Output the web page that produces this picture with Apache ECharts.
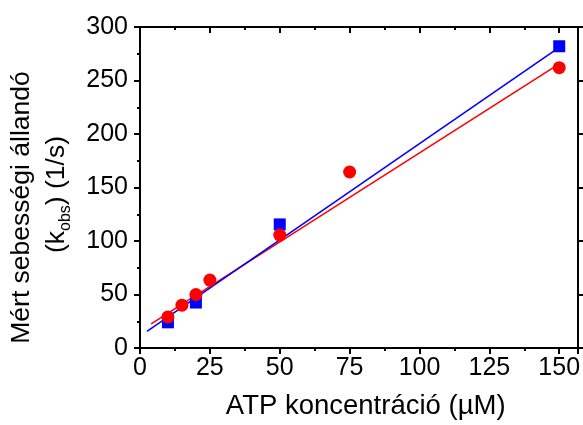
<!DOCTYPE html>
<html>
<head>
<meta charset="utf-8">
<script src="https://cdn.jsdelivr.net/npm/echarts@6/dist/echarts.min.js"></script>
<style>html,body{margin:0;padding:0;background:#fff}#c{width:583px;height:425px}</style>
</head>
<body>
<div id="c"></div>
<script>
// Measured points (ATP concentration in µM, k_obs in 1/s)
const redX = [10, 15, 20, 25, 50, 75, 150];
const redY = [29, 40, 50, 63.5, 105.5, 164.5, 262];
const blueX = [10, 20, 50, 150];
const blueY = [24, 42.5, 115.5, 282];
// Fitted straight lines (end points)
const redFitX = [4, 150];
const redFitY = [22.5, 265.5];
const blueFitX = [2.5, 150];
const blueFitY = [15.5, 281];
// Axes
const xMin = 0, xMax = 156.5, xStep = 25;
const yMin = 0, yMax = 300, yStep = 50;
const xTitle = 'ATP koncentráció (µM)';
const yTitle1 = 'Mért sebességi állandó';
const yTitle2a = '(k', yTitle2sub = 'obs', yTitle2b = ') (1/s)';

const pairs = (xs, ys) => xs.map((x, i) => [x, ys[i]]);
const FONT = 'Liberation Sans';
const axisLineStyle = { color: '#000', width: 2 };

const chart = echarts.init(document.getElementById('c'), null, { renderer: 'canvas' });
chart.setOption({
  animation: false,
  backgroundColor: '#fff',
  grid: { left: 138, right: 4, top: 27, bottom: 72, containLabel: false },
  xAxis: [
    {
      type: 'value', min: xMin, max: xMax, interval: xStep, position: 'bottom',
      axisLine: { show: true, onZero: false, lineStyle: axisLineStyle },
      axisTick: { show: true, inside: false, length: 6, lineStyle: { color: '#000', width: 2 } },
      minorTick: { show: true, splitNumber: 2, length: 3, lineStyle: { color: '#000', width: 2 } },
      splitLine: { show: false },
      axisLabel: { show: true, margin: 8, color: '#000', fontSize: 25, fontFamily: FONT, showMaxLabel: false },
      name: xTitle, nameLocation: 'middle', nameGap: 44,
      nameTextStyle: { color: '#000', fontSize: 27.5, fontFamily: FONT, padding: [0, 0, 0, 14] }
    },
    {
      type: 'value', min: xMin, max: xMax, interval: xStep, position: 'top',
      axisLine: { show: true, onZero: false, lineStyle: axisLineStyle },
      axisTick: { show: true, inside: true, length: 6, lineStyle: { color: '#000', width: 2 } },
      minorTick: { show: true, splitNumber: 2, length: 3, lineStyle: { color: '#000', width: 2 } },
      splitLine: { show: false },
      axisLabel: { show: false }
    }
  ],
  yAxis: [
    {
      type: 'value', min: yMin, max: yMax, interval: yStep, position: 'left',
      axisLine: { show: true, onZero: false, lineStyle: axisLineStyle },
      axisTick: { show: true, inside: false, length: 6, lineStyle: { color: '#000', width: 2 } },
      minorTick: { show: true, splitNumber: 2, length: 3, lineStyle: { color: '#000', width: 2 } },
      splitLine: { show: false },
      axisLabel: { show: true, margin: 12, color: '#000', fontSize: 25, fontFamily: FONT },
      name: '{p|' + yTitle1 + '}\n{a|' + yTitle2a + '}{s|' + yTitle2sub + '}{q|' + yTitle2b + '}',
      nameLocation: 'middle', nameRotate: 90, nameGap: 66,
      nameTextStyle: {
        color: '#000', fontFamily: FONT, fontSize: 26.5, align: 'center',
        rich: {
          p: { fontSize: 26.5, fontFamily: FONT, color: '#000', lineHeight: 35, padding: [0, 40, 0, 0] },
          a: { fontSize: 26.5, fontFamily: FONT, color: '#000', lineHeight: 35 },
          q: { fontSize: 26.5, fontFamily: FONT, color: '#000', lineHeight: 35, padding: [0, 14, 0, 0] },
          s: { fontSize: 16, fontFamily: FONT, color: '#000', lineHeight: 16, verticalAlign: 'bottom' }
        }
      }
    },
    {
      type: 'value', min: yMin, max: yMax, interval: yStep, position: 'right',
      axisLine: { show: true, onZero: false, lineStyle: axisLineStyle },
      axisTick: { show: true, inside: false, length: 6, lineStyle: { color: '#000', width: 2 } },
      splitLine: { show: false },
      axisLabel: { show: false }
    }
  ],
  series: [
    {
      type: 'line', data: pairs(redFitX, redFitY), symbol: 'none', z: 2,
      lineStyle: { color: '#ff0000', width: 1.6 }
    },
    {
      type: 'line', data: pairs(blueFitX, blueFitY), symbol: 'none', z: 3,
      lineStyle: { color: '#0000ff', width: 1.6 }
    },
    {
      type: 'scatter', data: pairs(blueX, blueY), symbol: 'rect', symbolSize: 12, z: 4,
      itemStyle: { color: '#0000ff', opacity: 1 }
    },
    {
      type: 'scatter', data: pairs(redX, redY), symbol: 'circle', symbolSize: 13, z: 5,
      itemStyle: { color: '#ff0000', opacity: 1 }
    }
  ]
});
</script>
</body>
</html>
